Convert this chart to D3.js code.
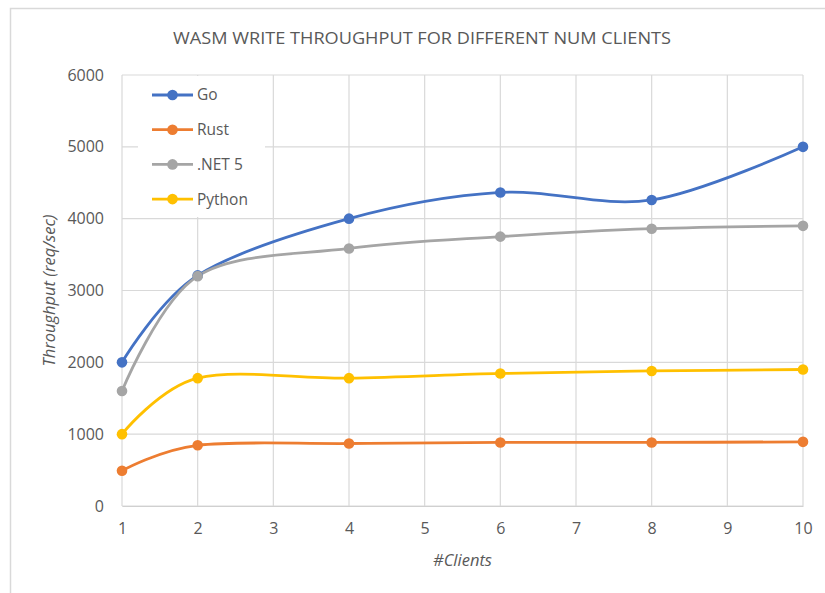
<!DOCTYPE html>
<html>
<head>
<meta charset="utf-8">
<script src="https://cdn.jsdelivr.net/npm/d3@7"></script>
<style>
  body { margin: 0; background: #fff; }
  text { font-family: "Open Sans", sans-serif; fill: #595959; }
</style>
</head>
<body>
<div id="chart"></div>
<script>
// data
const clients = [1, 2, 4, 6, 8, 10];
const seriesNames = ["Go", "Rust", ".NET 5", "Python"];
const goValues = [2000, 3210, 4000, 4365, 4260, 5000];
const rustValues = [490, 845, 870, 885, 885, 893];
const dotnetValues = [1600, 3200, 3585, 3750, 3860, 3900];
const pythonValues = [1000, 1780, 1780, 1845, 1880, 1900];
const xTicks = [1, 2, 3, 4, 5, 6, 7, 8, 9, 10];
const yTicks = [0, 1000, 2000, 3000, 4000, 5000, 6000];
const colors = ["#4472C4", "#ED7D31", "#A5A5A5", "#FFC000"];

const series = seriesNames.map((name, i) => ({
    name,
    color: colors[i],
    values: [goValues, rustValues, dotnetValues, pythonValues][i]
        .map((v, j) => ({ x: clients[j], y: v }))
}));

const W = 825, H = 593;
const margin = {top: 75, right: 22, bottom: 87, left: 122};
const width = W - margin.left - margin.right;
const height = H - margin.top - margin.bottom;

const root = d3.select("#chart").append("svg")
    .attr("width", W)
    .attr("height", H);

// outer chart frame
root.append("rect")
    .attr("x", 10.5).attr("y", 8.5)
    .attr("width", W + 10).attr("height", H + 10)
    .attr("fill", "none")
    .attr("stroke", "#d9d9d9")
    .attr("stroke-width", 1.5);

root.append("text")
    .attr("x", 422).attr("y", 44)
    .attr("text-anchor", "middle")
    .attr("textLength", 498)
    .attr("lengthAdjust", "spacingAndGlyphs")
    .style("font-size", "17px")
    .text("WASM WRITE THROUGHPUT FOR DIFFERENT NUM CLIENTS");

const svg = root.append("g")
    .attr("transform", `translate(${margin.left},${margin.top})`);

const x = d3.scaleLinear().domain([1, 10]).range([0, width]);
const y = d3.scaleLinear().domain([0, 6000]).range([height, 0]);

// gridlines
svg.append("g")
    .selectAll("line")
    .data(yTicks)
    .enter().append("line")
    .attr("x1", 0).attr("x2", width)
    .attr("y1", d => y(d)).attr("y2", d => y(d))
    .attr("stroke", "#d9d9d9")
    .attr("stroke-width", 1.2);

svg.append("g")
    .selectAll("line")
    .data(xTicks)
    .enter().append("line")
    .attr("x1", d => x(d)).attr("x2", d => x(d))
    .attr("y1", 0).attr("y2", height)
    .attr("stroke", "#d9d9d9")
    .attr("stroke-width", 1.2);

// axes
const yAxis = svg.append("g")
    .call(d3.axisLeft(y).tickValues(yTicks).tickFormat(d3.format("d"))
        .tickSize(0).tickPadding(18));
yAxis.select(".domain").remove();
yAxis.selectAll("text").style("font-size", "16px").attr("fill", "#595959");

const xAxis = svg.append("g")
    .attr("transform", `translate(0,${height})`)
    .call(d3.axisBottom(x).tickValues(xTicks).tickFormat(d3.format("d"))
        .tickSize(0).tickPadding(17));
xAxis.select(".domain").attr("stroke", "#d0d0d0").attr("stroke-width", 1.2);
xAxis.selectAll("text").style("font-size", "16px").attr("fill", "#595959");

// axis titles
root.append("text")
    .attr("transform", `translate(55,${margin.top + height / 2}) rotate(-90)`)
    .attr("text-anchor", "middle")
    .style("font-size", "16.5px")
    .style("font-style", "italic")
    .text("Throughput (req/sec)");

root.append("text")
    .attr("x", margin.left + width / 2)
    .attr("y", 566)
    .attr("text-anchor", "middle")
    .style("font-size", "16.5px")
    .style("font-style", "italic")
    .text("#Clients");

// legend box (covers gridlines)
const legend = svg.append("g");
legend.append("rect")
    .attr("x", 16).attr("y", 1)
    .attr("width", 127).attr("height", 141)
    .attr("fill", "#fff");

// lines
const line = d3.line()
    .x(d => x(d.x))
    .y(d => y(d.y))
    .curve(d3.curveCardinal.tension(0));

svg.selectAll(".series")
    .data(series)
    .enter().append("path")
    .attr("class", "series")
    .attr("d", d => line(d.values))
    .attr("fill", "none")
    .attr("stroke", d => d.color)
    .attr("stroke-width", 2.8);

series.forEach(s => {
    svg.append("g")
        .selectAll("circle")
        .data(s.values)
        .enter().append("circle")
        .attr("cx", d => x(d.x))
        .attr("cy", d => y(d.y))
        .attr("r", 5.3)
        .attr("fill", s.color);
});

const items = legend.selectAll(".item")
    .data(series)
    .enter().append("g")
    .attr("class", "item")
    .attr("transform", (d, i) => `translate(30,${20 + i * 34.7})`);

items.append("line")
    .attr("x1", 0).attr("x2", 41)
    .attr("stroke", d => d.color)
    .attr("stroke-width", 2.8);
items.append("circle")
    .attr("cx", 20.5).attr("r", 5.3)
    .attr("fill", d => d.color);
items.append("text")
    .attr("x", 45).attr("dy", "0.35em")
    .style("font-size", "15.5px")
    .attr("fill", "#595959")
    .text(d => d.name);
</script>
</body>
</html>
